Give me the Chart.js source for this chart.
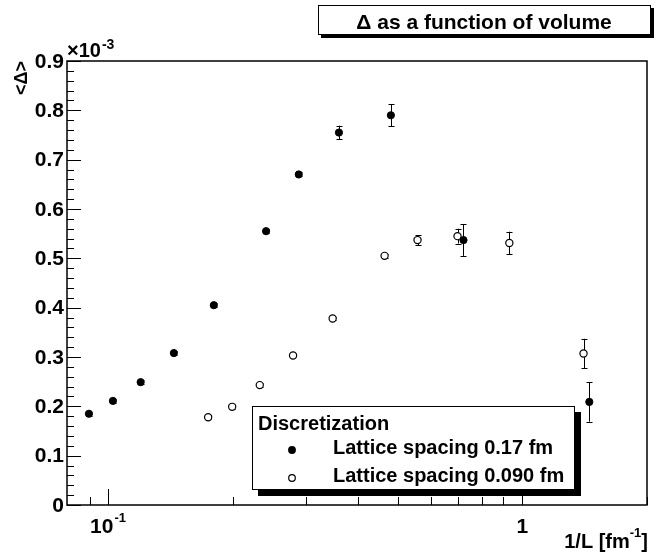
<!DOCTYPE html>
<html>
<head>
<meta charset="utf-8">
<script src="https://cdn.jsdelivr.net/npm/chart.js@4.4.1/dist/chart.umd.min.js"></script>
<style>
  body { margin: 0; background: #fff; }
  #wrap { width: 662px; height: 552px; }
</style>
</head>
<body>
<div id="wrap"><canvas id="deltaChart" width="662" height="552"></canvas></div>
<script>
// --- Chart Data (y in units of 1e-3) ---
const xCoarse = [0.0897, 0.1025, 0.1196, 0.1439, 0.1797, 0.2403, 0.2882, 0.3604, 0.4812, 0.7206, 1.451];
const yCoarse = [0.185, 0.211, 0.249, 0.308, 0.405, 0.555, 0.670, 0.755, 0.790, 0.537, 0.209];
const eCoarse = [0.004, 0.004, 0.004, 0.004, 0.004, 0.004, 0.004, 0.014, 0.022, 0.032, 0.040];

const xFine = [0.1741, 0.1990, 0.2320, 0.2792, 0.3480, 0.4646, 0.558, 0.697, 0.930, 1.405];
const yFine = [0.178, 0.199, 0.243, 0.303, 0.378, 0.505, 0.537, 0.545, 0.531, 0.307];
const eFine = [0.004, 0.004, 0.004, 0.004, 0.004, 0.004, 0.010, 0.015, 0.023, 0.030];

const xMajorTicks = [0.1, 1];
const xMinorTicks = [0.09, 0.2, 0.3, 0.4, 0.5, 0.6, 0.7, 0.8, 0.9, 2];
const yTickLabels = ['0', '0.1', '0.2', '0.3', '0.4', '0.5', '0.6', '0.7', '0.8', '0.9'];
const seriesNames = ['Lattice spacing 0.17 fm', 'Lattice spacing 0.090 fm'];
const errorSets = [eCoarse, eFine];

const FONT = '"Liberation Sans", Arial, Helvetica, sans-serif';

// --- error bars, frame, ticks, boxes (ROOT look) ---
const rootStyle = {
    id: 'rootStyle',
    beforeDraw(chart) {
        const c = chart.ctx;
        c.save();
        c.fillStyle = '#fff';
        c.fillRect(0, 0, chart.width, chart.height);
        c.restore();
    },
    beforeDatasetsDraw(chart) {
        const c = chart.ctx, xs = chart.scales.x, ys = chart.scales.y;
        c.save();
        c.strokeStyle = '#000';
        c.lineWidth = 1;
        chart.data.datasets.forEach((ds, i) => {
            const errs = errorSets[i];
            ds.data.forEach((p, j) => {
                const px = Math.round(xs.getPixelForValue(p.x)) + 0.5;
                const top = ys.getPixelForValue(p.y + errs[j]);
                const bot = ys.getPixelForValue(p.y - errs[j]);
                c.beginPath();
                c.moveTo(px, top); c.lineTo(px, bot);
                c.moveTo(px - 3, Math.round(top) + 0.5); c.lineTo(px + 3, Math.round(top) + 0.5);
                c.moveTo(px - 3, Math.round(bot) + 0.5); c.lineTo(px + 3, Math.round(bot) + 0.5);
                c.stroke();
            });
        });
        c.restore();
    },
    afterDraw(chart) {
        const c = chart.ctx, xs = chart.scales.x, ys = chart.scales.y;
        const a = chart.chartArea;
        c.save();
        c.strokeStyle = '#000';
        c.fillStyle = '#000';

        // frame
        c.lineWidth = 1.5;
        c.strokeRect(a.left, a.top, a.right - a.left, a.bottom - a.top);

        // y ticks
        c.lineWidth = 1;
        c.beginPath();
        for (let k = 0; k <= 45; k++) {
            const v = k * 0.02;
            const py = Math.round(ys.getPixelForValue(v)) + 0.5;
            const len = (k % 5 === 0) ? 14 : 7;
            c.moveTo(a.left, py); c.lineTo(a.left + len, py);
        }
        // x ticks
        xMajorTicks.forEach(v => {
            const px = Math.round(xs.getPixelForValue(v)) + 0.5;
            c.moveTo(px, a.bottom); c.lineTo(px, a.bottom - 16);
        });
        xMinorTicks.forEach(v => {
            const px = Math.round(xs.getPixelForValue(v)) + 0.5;
            c.moveTo(px, a.bottom); c.lineTo(px, a.bottom - 8);
        });
        c.stroke();

        // y tick labels
        c.font = 'bold 21px ' + FONT;
        c.textAlign = 'right';
        c.textBaseline = 'middle';
        yTickLabels.forEach(t => {
            c.fillText(t, a.left - 3, ys.getPixelForValue(parseFloat(t)) + 1);
        });

        // x tick labels
        c.textBaseline = 'alphabetic';
        c.font = 'bold 21px ' + FONT;
        const p01 = xs.getPixelForValue(0.1);
        c.textAlign = 'right';
        c.fillText('10', p01 + 5, 533);
        c.font = 'bold 13px ' + FONT;
        c.textAlign = 'left';
        c.fillText('-1', p01 + 6, 522);
        c.font = 'bold 21px ' + FONT;
        c.textAlign = 'center';
        c.fillText('1', xs.getPixelForValue(1), 533);

        // exponent label
        c.font = 'bold 20px ' + FONT;
        c.textAlign = 'left';
        c.fillText('\u00d710', a.left, 57);
        const wx = c.measureText('\u00d710').width;
        c.font = 'bold 14px ' + FONT;
        c.fillText('-3', a.left + wx + 1, 49);

        // x axis title: 1/L [fm^-1], right aligned to the frame
        c.font = 'bold 20px ' + FONT;
        const wMain = c.measureText('1/L [fm').width;
        const wBr = c.measureText(']').width;
        c.font = 'bold 13px ' + FONT;
        const wSup = c.measureText('-1').width;
        let tx = 648 - wBr - wSup - wMain;
        c.font = 'bold 20px ' + FONT;
        c.fillText('1/L [fm', tx, 548);
        c.font = 'bold 13px ' + FONT;
        c.fillText('-1', tx + wMain, 537);
        c.font = 'bold 20px ' + FONT;
        c.fillText(']', tx + wMain + wSup, 548);

        // y axis title
        c.save();
        c.translate(27, a.top);
        c.rotate(-Math.PI / 2);
        c.font = 'bold 18px ' + FONT;
        c.textAlign = 'right';
        c.fillText('<\u0394>', 0, 0);
        c.restore();

        // title box
        c.fillStyle = '#000';
        c.fillRect(321, 8, 333, 30);
        c.fillStyle = '#fff';
        c.fillRect(318, 5, 333, 30);
        c.lineWidth = 1;
        c.strokeRect(318.5, 5.5, 332, 29);
        c.fillStyle = '#000';
        c.font = 'bold 21px ' + FONT;
        c.textAlign = 'center';
        c.fillText('\u0394 as a function of volume', 484, 29);

        // legend box
        c.fillRect(258, 412, 323, 84);
        c.fillStyle = '#fff';
        c.fillRect(252, 406, 323, 84);
        c.strokeRect(252.5, 406.5, 322, 83);
        c.fillStyle = '#000';
        c.textAlign = 'left';
        c.font = 'bold 20px ' + FONT;
        c.fillText('Discretization', 258, 430);
        const rows = [454, 482];
        seriesNames.forEach((name, i) => {
            const ds = chart.data.datasets[i];
            c.beginPath();
            c.arc(292, rows[i] - 4, 3.3, 0, Math.PI * 2);
            c.fillStyle = ds.backgroundColor;
            c.fill();
            c.lineWidth = 1.2;
            c.stroke();
            c.fillStyle = '#000';
            c.fillText(name, 333, rows[i]);
        });
        c.restore();
    }
};

const ctx = document.getElementById('deltaChart').getContext('2d');
const deltaChart = new Chart(ctx, {
    type: 'scatter',
    data: {
        datasets: [
            {
                label: seriesNames[0],
                data: xCoarse.map((x, i) => ({ x: x, y: yCoarse[i] })),
                backgroundColor: '#000',
                borderColor: '#000',
                borderWidth: 1,
                pointRadius: 3.6,
                pointHoverRadius: 3.6
            },
            {
                label: seriesNames[1],
                data: xFine.map((x, i) => ({ x: x, y: yFine[i] })),
                backgroundColor: '#fff',
                borderColor: '#000',
                borderWidth: 1.2,
                pointRadius: 3.6,
                pointHoverRadius: 3.6
            }
        ]
    },
    options: {
        responsive: false,
        animation: false,
        devicePixelRatio: 1,
        layout: { padding: { left: 67, right: 15, top: 61, bottom: 47 } },
        plugins: {
            legend: { display: false },
            title: { display: false },
            tooltip: { enabled: false }
        },
        scales: {
            x: { type: 'logarithmic', min: 0.0794, max: 2.0, display: false },
            y: { type: 'linear', min: 0, max: 0.9, display: false }
        }
    },
    plugins: [rootStyle]
});
</script>
</body>
</html>
